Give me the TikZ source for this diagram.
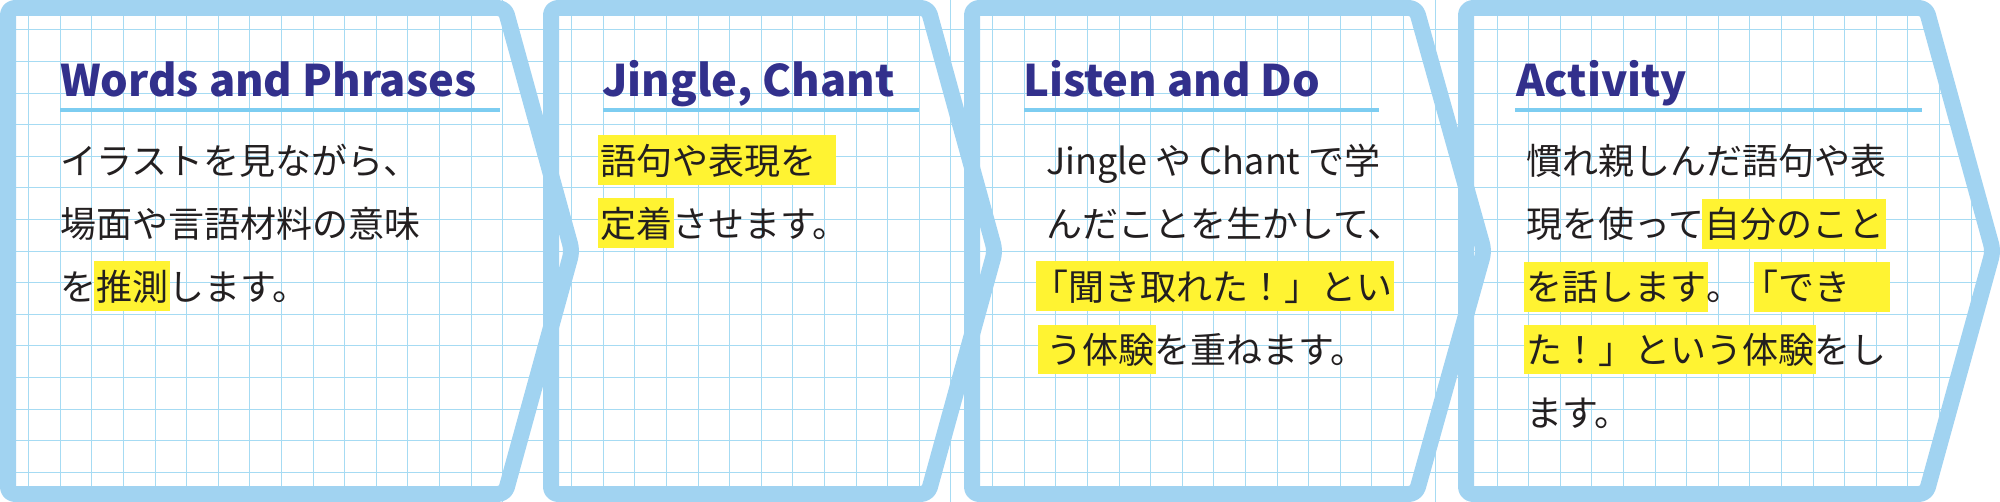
\documentclass[tikz,border=0pt]{standalone}
\usepackage{fontspec}
\setmainfont{Noto Sans CJK JP}
\usepackage{tikz}
\usepackage{color}

\definecolor{frameblue}{RGB}{161,211,241}
\definecolor{gridline}{RGB}{166,219,243}
\definecolor{headblue}{RGB}{50,48,140}
\definecolor{ruleblue}{RGB}{125,205,241}
\definecolor{hlyellow}{RGB}{255,243,50}
\definecolor{txtgray}{RGB}{35,31,32}

% yellow marker behind a few words
\setlength{\fboxsep}{0pt}
\newcommand{\hilite}[1]{\kern-2pt\colorbox{hlyellow}{\kern2pt\rule[-11.3pt]{0pt}{50pt}#1\kern2pt}\kern-2pt}

\tikzset{
    panel/.style={
           draw=frameblue, line width=16pt,
           rounded corners=7pt, line join=round,
           },
    thinline/.style={draw=gridline, line width=1pt},
    heading/.style={
           anchor=base west,
           inner sep=0pt,
           text=headblue,
           font=\bfseries\fontsize{43.5}{50}\selectfont,
           },
    headrule/.style={draw=ruleblue, line width=4.5pt},
    body/.style={
           anchor=north west,
           inner sep=0pt,
           align=left,
           text=txtgray,
           font=\fontsize{36}{63}\selectfont,
           },
}

\begin{document}
\begin{tikzpicture}[x=1pt, y=-1pt]
    \useasboundingbox (0,0) rectangle (2000,502);

    % squared paper behind each panel
    \foreach \L/\N/\F in {8/551/28.7, 551/972/571.7, 972/1466/992.7} {
        \begin{scope}
            \clip (\L,0) rectangle (\N,502);
            \foreach \k in {0,...,15}
                \draw[thinline] (\F+31.6*\k,0) -- (\F+31.6*\k,502);
            \foreach \k in {0,...,14}
                \draw[thinline] (\L,30+31.6*\k) -- (\N,30+31.6*\k);
        \end{scope}
    }
    \begin{scope}
        \clip (1466,0) -- (1926,0) -- (1993,251) -- (1926,502) -- (1466,502) -- cycle;
        \foreach \k in {0,...,17}
            \draw[thinline] (1465.4+31.6*\k,0) -- (1465.4+31.6*\k,502);
        \foreach \k in {0,...,14}
            \draw[thinline] (1466,30+31.6*\k) -- (2000,30+31.6*\k);
    \end{scope}

    % the four arrow-shaped frames
    \draw[panel] (8,8) -- (505,8) -- (572,251) -- (505,494) -- (8,494) -- cycle;
    \draw[panel] (551,8) -- (928,8) -- (995,251) -- (928,494) -- (551,494) -- cycle;
    \draw[panel] (972,8) -- (1416,8) -- (1484,251) -- (1416,494) -- (972,494) -- cycle;
    \draw[panel] (1466,8) -- (1926,8) -- (1993,251) -- (1926,494) -- (1466,494) -- cycle;

    % headings with their rules
    \node[heading] (words) at (60,97) {Words and Phrases};
    \node[heading] (jingle) at (602,97) {Jingle, Chant};
    \node[heading] (listen) at (1023,97) {Listen and Do};
    \node[heading] (activity) at (1516,97) {Activity};

    \draw[headrule] (60,110) -- (500,110);
    \draw[headrule] (603,110) -- (919,110);
    \draw[headrule] (1024,110) -- (1379,110);
    \draw[headrule] (1515,110) -- (1922,110);

    % body texts
    \node[body] (wordstext) at (60,134)
    {\rule{0pt}{40pt}イラストを見ながら、\\%
     場面や言語材料の意味\\%
     を\hilite{推測}します。};

    \node[body] (jingletext) at (600,134)
    {\rule{0pt}{40pt}\hilite{語句や表現を\hspace{18pt}}\\%
     \hilite{定着}させます。};

    \node[body] (listentext) at (1046,134)
    {\rule{0pt}{40pt}Jingle や Chant で学\\%
     んだことを生かして、\\%
     \kern-8pt\hilite{\kern-6pt「聞き取れた！」とい}\\%
     \kern-6pt\hilite{\kern6pt う体験}を重ねます。};

    \node[body] (activitytext) at (1526,134)
    {\rule{0pt}{40pt}慣れ親しんだ語句や表\\%
     現を使って\hilite{自分のこと}\\%
     \hilite{を話します}。\kern14pt\hilite{\kern-14pt「でき\hspace{38pt}}\\%
     \hilite{た！」という体験}をし\\%
     ます。};
\end{tikzpicture}
\end{document}
